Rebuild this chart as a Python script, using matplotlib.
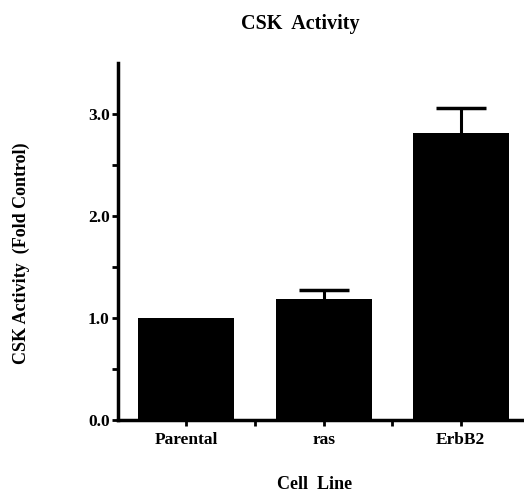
import numpy as np
import matplotlib
matplotlib.use('Agg')
import matplotlib.pyplot as plt

cell_lines = ['Parental', 'ras', 'ErbB2']
activity = [1.0, 1.19, 2.81]
err_up = [0.0, 0.08, 0.25]

plt.rcParams['font.family'] = ['Liberation Serif', 'DejaVu Serif']
plt.rcParams['font.weight'] = 'bold'

fig = plt.figure(figsize=(5.24, 4.97), dpi=100)
ax = fig.add_axes([0.225, 0.155, 0.785, 0.718])

x = np.arange(len(cell_lines))
ax.bar(x, activity, width=0.7, color='black', zorder=2)
eb = ax.errorbar(x[1:], activity[1:], yerr=[np.zeros(2), err_up[1:]], fmt='none',
                 ecolor='black', elinewidth=2.2, capsize=18, capthick=2.5, zorder=3)
# only the upper caps are visible in the original
eb[1][0].set_visible(False)

ax.set_xlim(-0.5, 2.5)
ax.set_ylim(0, 3.5)
ax.set_xticks(x)
ax.set_xticklabels(cell_lines, fontsize=12.5, fontweight='bold')
ax.set_xticks([0.5, 1.5], minor=True)
ax.set_yticks([0, 1, 2, 3])
ax.set_yticklabels(['0.0', '1.0', '2.0', '3.0'], fontsize=12.5, fontweight='bold')
ax.set_yticks([0.5, 1.5, 2.5], minor=True)

for s in ['top', 'right']:
    ax.spines[s].set_visible(False)
for s in ['left', 'bottom']:
    ax.spines[s].set_linewidth(2.5)
ax.tick_params(which='both', direction='out', width=2, length=4, pad=2)
ax.tick_params(axis='x', which='major', pad=5)

fig.text(0.573, 0.952, 'CSK  Activity', ha='center', va='center', fontsize=14.5, fontweight='bold')
fig.text(0.600, 0.025, 'Cell  Line', ha='center', va='center', fontsize=13, fontweight='bold')
fig.text(0.040, 0.49, 'CSK Activity  (Fold Control)', ha='center', va='center', rotation=90,
         fontsize=13, fontweight='bold')

fig.savefig('out.png', dpi=100)
